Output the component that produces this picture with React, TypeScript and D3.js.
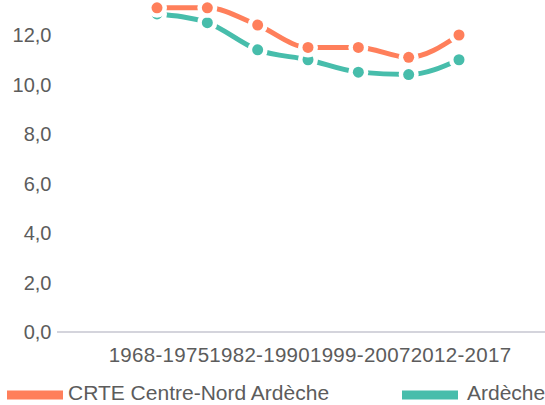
import React, { useEffect, useRef } from 'react';
import * as d3 from 'd3';

const periods = ['1968-1975', '1975-1982', '1982-1990', '1990-1999', '1999-2007', '2007-2012', '2012-2017'];
const crteValues = [13.1, 13.1, 12.4, 11.5, 11.5, 11.1, 12.0];
const ardecheValues = [12.85, 12.5, 11.4, 11.0, 10.5, 10.4, 11.0];
const yTicks = [0, 2, 4, 6, 8, 10, 12];
const seriesNames = ['CRTE Centre-Nord Ardèche', 'Ardèche'];

const App = () => {
  const ref = useRef<SVGSVGElement>(null);

  useEffect(() => {
    const svg = d3.select(ref.current);
    svg.selectAll('*').remove();

    const width = 545;
    const height = 405;
    const font = '"Liberation Sans", Arial, sans-serif';
    const colors = ['#ff7f5b', '#47bdab'];

    const x = d3.scalePoint<string>().domain(periods).range([157, 459]);
    const y = d3.scaleLinear().domain([0, 12]).range([332, 35]);

    // y tick labels
    svg.append('g')
      .selectAll('text')
      .data(yTicks)
      .enter()
      .append('text')
      .attr('x', 51.5)
      .attr('y', d => y(d) + 7)
      .attr('text-anchor', 'end')
      .style('font-family', font)
      .style('font-size', '20px')
      .style('fill', '#5c5c5c')
      .text(d => d.toFixed(1).replace('.', ','));

    // baseline
    svg.append('line')
      .attr('x1', 57)
      .attr('x2', width)
      .attr('y1', y(0))
      .attr('y2', y(0))
      .style('stroke', '#d4d4dc')
      .style('stroke-width', 2);

    // x labels, every other period
    svg.append('g')
      .selectAll('text')
      .data(periods.filter((_, i) => i % 2 === 0))
      .enter()
      .append('text')
      .attr('x', d => (x(d) as number) + 2)
      .attr('y', 362)
      .attr('text-anchor', 'middle')
      .style('font-family', font)
      .style('font-size', '20.5px')
      .style('letter-spacing', '0.3px')
      .style('fill', '#5c5c5c')
      .text(d => d);

    const line = d3.line<number>()
      .x((_, i) => x(periods[i]) as number)
      .y(d => y(d))
      .curve(d3.curveMonotoneX);

    [ardecheValues, crteValues].forEach((values, k) => {
      const color = colors[1 - k];
      const g = svg.append('g');
      g.append('path')
        .attr('d', line(values))
        .style('fill', 'none')
        .style('stroke', color)
        .style('stroke-width', 5);
      g.selectAll('circle.halo')
        .data(values)
        .enter()
        .append('circle')
        .attr('class', 'halo')
        .attr('cx', (_, i) => x(periods[i]) as number)
        .attr('cy', d => y(d))
        .attr('r', 10)
        .style('fill', '#fff');
      g.selectAll('circle.dot')
        .data(values)
        .enter()
        .append('circle')
        .attr('class', 'dot')
        .attr('cx', (_, i) => x(periods[i]) as number)
        .attr('cy', d => y(d))
        .attr('r', 5.5)
        .style('fill', color);
    });

    // legend
    const legendX = [7, 402];
    const legendTextX = [68, 467];
    seriesNames.forEach((name, i) => {
      svg.append('rect')
        .attr('x', legendX[i])
        .attr('y', 390.5)
        .attr('width', 56)
        .attr('height', 9)
        .style('fill', colors[i]);
      svg.append('text')
        .attr('x', legendTextX[i])
        .attr('y', 400)
        .style('font-family', font)
        .style('font-size', '21px')
        .style('fill', '#5c5c5c')
        .text(name);
    });

    svg.attr('width', width).attr('height', height);
  }, []);

  return (
    <svg
      ref={ref}
      width={545}
      height={405}
      style={{ position: 'absolute', left: 0, top: 0, display: 'block', background: '#fff' }}
    />
  );
};

export default App;
